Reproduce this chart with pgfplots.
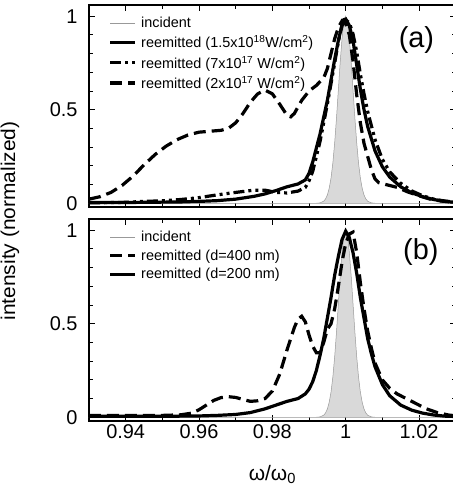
\documentclass[border=0pt]{standalone}
\usepackage{fontspec}
\setmainfont{Liberation Sans}
\usepackage{graphicx}
\usepackage{pgfplots}
\pgfplotsset{compat=1.18}

\pgfplotsset{
 panel/.style={
  scale only axis, width=366.7bp, height=202bp,
  xmin=0.93, xmax=1.03, ymin=-0.02, ymax=1.06,
  xtick={0.94,0.96,0.98,1,1.02},
  minor xtick={0.93,0.95,0.97,0.99,1.01,1.03},
  ytick={0,0.5,1},
  minor ytick={0.1,0.2,0.3,0.4,0.6,0.7,0.8,0.9},
  tick align=inside,
  major tick length=6bp, minor tick length=4bp,
  every tick/.style={black, line width=1bp},
  axis line style={line width=1.8bp},
  /pgf/number format/assume math mode=true,
  ticklabel style={font=\fontsize{20}{22}\selectfont},
  yticklabel style={xshift=-8bp},
  legend style={draw=none, fill=none, at={(0.05,0.955)}, anchor=north west,
    font=\fontsize{14.5}{16}\selectfont, row sep=2.5bp, inner sep=1bp,
    nodes={inner xsep=4.5bp}},
  legend cell align=left,
  legend image code/.code={\draw[#1] (0bp,0bp) -- (25bp,0bp);},
 },
 inc/.style={draw=gray!80, line width=0.5bp, fill=gray!30},
 solidc/.style={black, line width=3.2bp},
 dashc/.style={black, line width=3.2bp, dash pattern=on 12bp off 6bp},
 dotc/.style={black, line width=3.2bp, dash pattern=on 11bp off 4bp on 3bp off 4bp on 3bp off 4bp},
}

\begin{document}
\begin{tikzpicture}
% ---------------- panel (a) ----------------
\begin{axis}[panel, at={(0,214bp)}, anchor=south west, xticklabels={}]
\addplot[inc] coordinates {
(0.93,0) (0.992,0) (0.993,0.002) (0.994,0.011) (0.9945,0.023) (0.995,0.044) (0.9955,0.080)
(0.996,0.135) (0.9965,0.216) (0.997,0.325) (0.9975,0.458) (0.998,0.607) (0.9985,0.755)
(0.999,0.882) (0.9995,0.969) (1.000,1.0) (1.0005,0.969) (1.001,0.882) (1.0015,0.755)
(1.002,0.607) (1.0025,0.458) (1.003,0.325) (1.0035,0.216) (1.004,0.135) (1.0045,0.080)
(1.005,0.044) (1.0055,0.023) (1.006,0.011) (1.007,0.002) (1.008,0) (1.03,0)} \closedcycle;
\addlegendentry{incident}
\addplot[solidc] coordinates {
(0.930,0.004) (0.940,0.004) (0.950,0.006) (0.955,0.007) (0.960,0.010) (0.965,0.014)
(0.970,0.022) (0.975,0.037) (0.978,0.050) (0.981,0.068) (0.984,0.088) (0.987,0.103)
(0.989,0.125) (0.990,0.160) (0.991,0.220) (0.993,0.370) (0.995,0.550) (0.997,0.770)
(0.998,0.870) (0.999,0.955) (0.9995,0.982) (1.000,0.985) (1.001,0.950) (1.002,0.870)
(1.003,0.740) (1.004,0.610) (1.005,0.500) (1.006,0.410) (1.008,0.280) (1.010,0.195)
(1.012,0.140) (1.015,0.088) (1.018,0.056) (1.021,0.035) (1.024,0.020) (1.027,0.010) (1.030,0.005)};
\addlegendentry{reemitted (1.5x10\textsuperscript{18}W/cm\textsuperscript{2})}
\addplot[dotc] coordinates {
(0.930,0.002) (0.940,0.005) (0.945,0.010) (0.950,0.013) (0.955,0.020) (0.960,0.030)
(0.965,0.045) (0.970,0.058) (0.975,0.070) (0.978,0.070) (0.981,0.058) (0.984,0.055)
(0.987,0.065) (0.989,0.085) (0.990,0.120) (0.991,0.170) (0.993,0.330) (0.995,0.530)
(0.997,0.750) (0.998,0.865) (0.999,0.950) (1.000,0.980) (1.001,0.965) (1.002,0.905)
(1.003,0.810) (1.004,0.690) (1.005,0.585) (1.006,0.490) (1.008,0.340) (1.010,0.235)
(1.012,0.168) (1.015,0.107) (1.018,0.066) (1.021,0.040) (1.024,0.022) (1.027,0.012) (1.030,0.006)};
\addlegendentry{reemitted (7x10\textsuperscript{17} W/cm\textsuperscript{2})}
\addplot[dashc] coordinates {
(0.930,0.022) (0.933,0.035) (0.936,0.058) (0.939,0.095) (0.942,0.145) (0.945,0.205)
(0.948,0.260) (0.951,0.305) (0.954,0.340) (0.957,0.365) (0.960,0.380) (0.963,0.385)
(0.966,0.390) (0.968,0.400) (0.970,0.430) (0.972,0.480) (0.974,0.540) (0.976,0.585)
(0.978,0.605) (0.980,0.585) (0.982,0.530) (0.984,0.470) (0.985,0.462) (0.986,0.480)
(0.988,0.550) (0.990,0.600) (0.992,0.630) (0.994,0.670) (0.995,0.720) (0.996,0.800)
(0.997,0.880) (0.998,0.940) (0.999,0.975) (1.000,0.960) (1.001,0.900) (1.002,0.760)
(1.003,0.580) (1.004,0.430) (1.005,0.320) (1.006,0.250) (1.007,0.180) (1.008,0.130)
(1.009,0.110) (1.011,0.100) (1.014,0.085) (1.017,0.060) (1.020,0.040) (1.023,0.022)
(1.026,0.012) (1.030,0.005)};
\addlegendentry{reemitted (2x10\textsuperscript{17} W/cm\textsuperscript{2})}
\node[font=\fontsize{29}{32}\selectfont] at (rel axis cs:0.893,0.825) {(a)};
\end{axis}
% ---------------- panel (b) ----------------
\begin{axis}[panel, at={(0,0)}, anchor=south west,
  xlabel={ω/ω\textsubscript{0}},
  xlabel style={at={(axis description cs:0.5,-0.265)}, anchor=center, font=\fontsize{21}{23}\selectfont}]
\addplot[inc] coordinates {
(0.93,0) (0.992,0) (0.993,0.002) (0.994,0.011) (0.9945,0.023) (0.995,0.044) (0.9955,0.080)
(0.996,0.135) (0.9965,0.216) (0.997,0.325) (0.9975,0.458) (0.998,0.607) (0.9985,0.755)
(0.999,0.882) (0.9995,0.969) (1.000,1.0) (1.0005,0.969) (1.001,0.882) (1.0015,0.755)
(1.002,0.607) (1.0025,0.458) (1.003,0.325) (1.0035,0.216) (1.004,0.135) (1.0045,0.080)
(1.005,0.044) (1.0055,0.023) (1.006,0.011) (1.007,0.002) (1.008,0) (1.03,0)} \closedcycle;
\addlegendentry{incident}
\addplot[dashc] coordinates {
(0.930,0.010) (0.940,0.010) (0.950,0.010) (0.955,0.013) (0.958,0.022) (0.960,0.040)
(0.962,0.065) (0.964,0.090) (0.966,0.105) (0.968,0.110) (0.970,0.106) (0.972,0.095)
(0.974,0.085) (0.976,0.088) (0.978,0.100) (0.980,0.140) (0.982,0.230) (0.984,0.360)
(0.986,0.480) (0.987,0.525) (0.988,0.540) (0.989,0.510) (0.990,0.440) (0.991,0.380)
(0.992,0.345) (0.993,0.345) (0.994,0.400) (0.995,0.470) (0.996,0.500) (0.997,0.580)
(0.998,0.700) (0.999,0.830) (1.000,0.930) (1.001,0.980) (1.002,0.990) (1.003,0.880)
(1.004,0.720) (1.005,0.580) (1.006,0.460) (1.007,0.370) (1.008,0.290) (1.010,0.200)
(1.012,0.155) (1.014,0.125) (1.016,0.105) (1.018,0.085) (1.020,0.065) (1.022,0.045)
(1.025,0.025) (1.028,0.012) (1.030,0.008)};
\addlegendentry{reemitted (d=400 nm)}
\addplot[solidc] coordinates {
(0.930,0.005) (0.950,0.005) (0.960,0.007) (0.965,0.010) (0.970,0.015) (0.974,0.025)
(0.978,0.045) (0.981,0.065) (0.984,0.085) (0.987,0.100) (0.989,0.125) (0.990,0.150)
(0.991,0.190) (0.992,0.250) (0.993,0.330) (0.994,0.420) (0.995,0.530) (0.996,0.640)
(0.997,0.760) (0.998,0.860) (0.999,0.950) (1.000,0.995) (1.001,0.960) (1.002,0.880)
(1.003,0.770) (1.004,0.640) (1.005,0.530) (1.006,0.420) (1.007,0.340) (1.008,0.270)
(1.010,0.175) (1.012,0.115) (1.015,0.065) (1.018,0.038) (1.021,0.022) (1.024,0.012)
(1.027,0.006) (1.030,0.004)};
\addlegendentry{reemitted (d=200 nm)}
\node[font=\fontsize{29}{32}\selectfont] at (rel axis cs:0.905,0.835) {(b)};
\end{axis}
\node[rotate=90, font=\fontsize{20}{22}\selectfont] at (-79bp,200bp) {\scalebox{1.05}[1]{intensity (normalized)}};
\pgfresetboundingbox
\path[use as bounding box] (-89bp,-66bp) rectangle (364bp,421bp);
\end{tikzpicture}
\end{document}
